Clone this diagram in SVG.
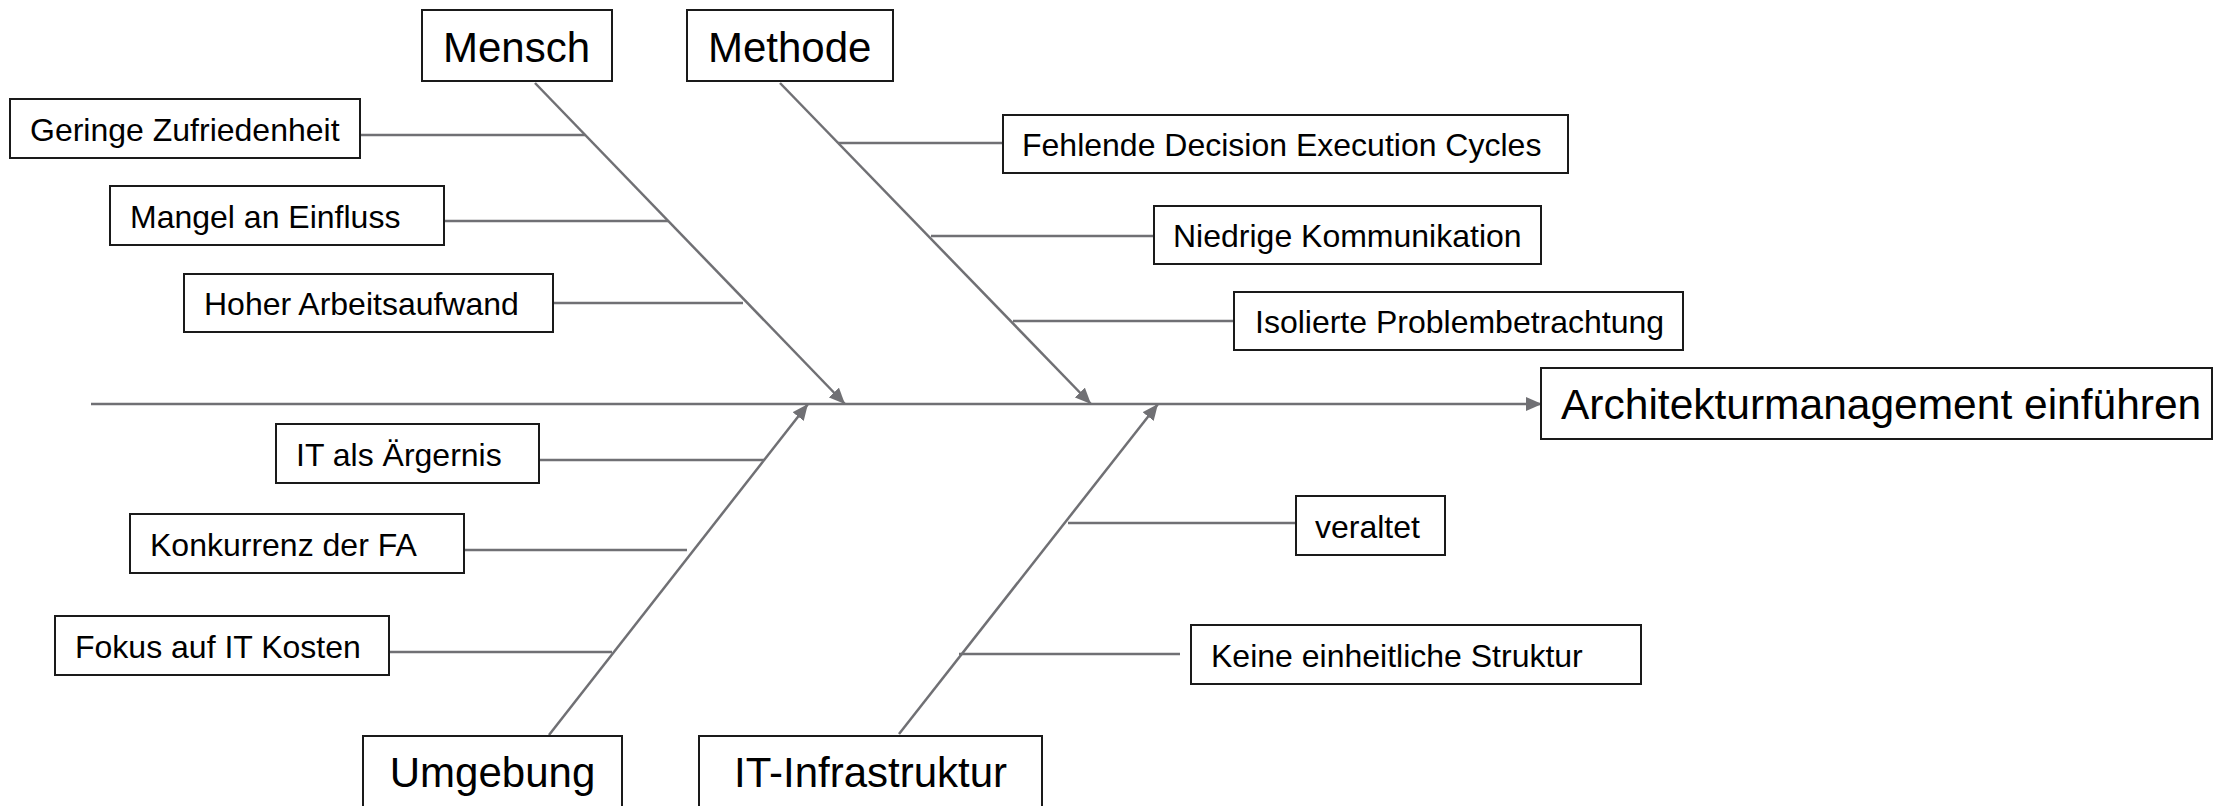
<svg xmlns="http://www.w3.org/2000/svg" width="2215" height="806" viewBox="0 0 2215 806">
<style>
.box{fill:#ffffff;stroke:#1a1a1a;stroke-width:2}
.sm{font-family:"Liberation Sans",Arial,sans-serif;font-size:32px;fill:#000}
.lg{font-family:"Liberation Sans",Arial,sans-serif;font-size:42px;fill:#000}
.ln{stroke:#707074;stroke-width:2.5;fill:none}
</style>
<defs>
<marker id="ah" markerUnits="userSpaceOnUse" markerWidth="16" markerHeight="14" viewBox="0 0 16 14" refX="16" refY="7" orient="auto">
<path d="M0,0 L16,7 L0,14 z" fill="#707074"/>
</marker>
</defs>
<rect width="2215" height="806" fill="#ffffff"/>
<g id="connectors">
<line class="ln" x1="91" y1="404" x2="1542" y2="404" marker-end="url(#ah)"/>
<line class="ln" x1="535" y1="83" x2="845" y2="404" marker-end="url(#ah)"/>
<line class="ln" x1="780" y1="83" x2="1091" y2="404" marker-end="url(#ah)"/>
<line class="ln" x1="549" y1="735" x2="808" y2="404" marker-end="url(#ah)"/>
<line class="ln" x1="899" y1="734" x2="1158" y2="404" marker-end="url(#ah)"/>
<line class="ln" x1="360" y1="135" x2="585" y2="135"/>
<line class="ln" x1="444" y1="221" x2="668" y2="221"/>
<line class="ln" x1="553" y1="303" x2="743" y2="303"/>
<line class="ln" x1="838" y1="143" x2="1003" y2="143"/>
<line class="ln" x1="931" y1="236" x2="1154" y2="236"/>
<line class="ln" x1="1013" y1="321" x2="1234" y2="321"/>
<line class="ln" x1="539" y1="460" x2="764" y2="460"/>
<line class="ln" x1="464" y1="550" x2="687" y2="550"/>
<line class="ln" x1="389" y1="652" x2="612" y2="652"/>
<line class="ln" x1="1068" y1="523" x2="1296" y2="523"/>
<line class="ln" x1="959" y1="654" x2="1180" y2="654"/>
</g>
<g id="mensch"><rect class="box" x="422" y="10" width="190" height="71"/><text class="lg" x="443" y="62">Mensch</text></g>
<g id="methode"><rect class="box" x="687" y="10" width="206" height="71"/><text class="lg" x="708" y="62">Methode</text></g>
<g id="ziel"><rect class="box" x="1541" y="368" width="671" height="71"/><text class="lg" x="1561" y="419" style="font-size:42.5px">Architekturmanagement einführen</text></g>
<g id="umgebung"><rect class="box" x="363" y="736" width="259" height="90"/><text class="lg" x="492.5" y="787" text-anchor="middle">Umgebung</text></g>
<g id="itinfra"><rect class="box" x="699" y="736" width="343" height="90"/><text class="lg" x="870.5" y="787" text-anchor="middle">IT-Infrastruktur</text></g>
<g id="geringe"><rect class="box" x="10" y="99" width="350" height="59"/><text class="sm" x="30" y="141">Geringe Zufriedenheit</text></g>
<g id="mangel"><rect class="box" x="110" y="186" width="334" height="59"/><text class="sm" x="130" y="228">Mangel an Einfluss</text></g>
<g id="hoher"><rect class="box" x="184" y="274" width="369" height="58"/><text class="sm" x="204" y="315">Hoher Arbeitsaufwand</text></g>
<g id="fehlende"><rect class="box" x="1003" y="115" width="565" height="58"/><text class="sm" x="1022" y="156">Fehlende Decision Execution Cycles</text></g>
<g id="niedrige"><rect class="box" x="1154" y="206" width="387" height="58"/><text class="sm" x="1173" y="247">Niedrige Kommunikation</text></g>
<g id="isolierte"><rect class="box" x="1234" y="292" width="449" height="58"/><text class="sm" x="1255" y="333">Isolierte Problembetrachtung</text></g>
<g id="aergernis"><rect class="box" x="276" y="424" width="263" height="59"/><text class="sm" x="296" y="466">IT als Ärgernis</text></g>
<g id="konkurrenz"><rect class="box" x="130" y="514" width="334" height="59"/><text class="sm" x="150" y="556">Konkurrenz der FA</text></g>
<g id="fokus"><rect class="box" x="55" y="616" width="334" height="59"/><text class="sm" x="75" y="658">Fokus auf IT Kosten</text></g>
<g id="veraltet"><rect class="box" x="1296" y="496" width="149" height="59"/><text class="sm" x="1315" y="538">veraltet</text></g>
<g id="keine"><rect class="box" x="1191" y="625" width="450" height="59"/><text class="sm" x="1211" y="667">Keine einheitliche Struktur</text></g>
</svg>
